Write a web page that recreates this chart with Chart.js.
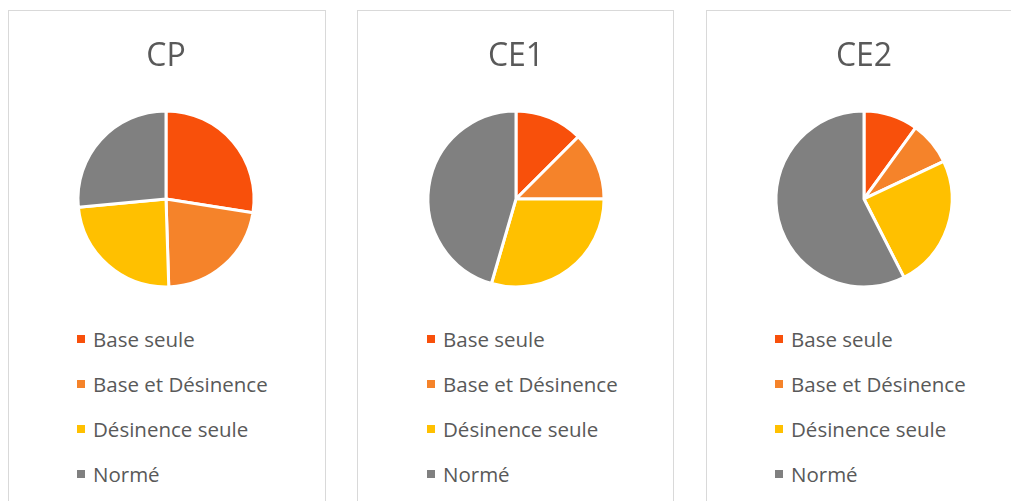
<!DOCTYPE html>
<html>
<head>
<meta charset="utf-8">
<script src="https://cdn.jsdelivr.net/npm/chart.js@4"></script>
<style>
  html, body { margin: 0; padding: 0; background: #fff; }
  body { width: 1011px; height: 501px; position: relative; overflow: hidden; font-family: "Open Sans", sans-serif; }
  .panel { position: absolute; top: 10px; height: 520px; border: 1px solid #d9d9d9; box-sizing: border-box; background: #fff; }
  .chart { position: absolute; top: 10px; width: 316px; height: 290px; }
  .legend { position: absolute; top: 0; margin: 0; padding: 0; list-style: none; }
  .legend li { position: absolute; left: 0; white-space: nowrap; font-size: 20.5px; color: #595959; line-height: 24px; height: 24px; }
  .legend .sw { position: absolute; left: 0; top: 8px; width: 8px; height: 8px; }
  .legend .tx { position: absolute; left: 16px; top: 0; }
</style>
</head>
<body>
<div class="panel" style="left:8px;width:318px"></div>
<div class="panel" style="left:357px;width:317px"></div>
<div class="panel" style="left:706px;width:320px"></div>

<canvas id="c0" class="chart" width="316" height="290" style="left:8px"></canvas>
<canvas id="c1" class="chart" width="316" height="290" style="left:358px"></canvas>
<canvas id="c2" class="chart" width="316" height="290" style="left:706px"></canvas>

<ul id="l0" class="legend"></ul>
<ul id="l1" class="legend"></ul>
<ul id="l2" class="legend"></ul>

<script>
// Categories of answers
const categories = ['Base seule', 'Base et Désinence', 'Désinence seule', 'Normé'];
// Share (%) of each category per school level
const cpValues  = [27.5, 22, 24, 26.5];
const ce1Values = [12.5, 12.5, 29.5, 45.5];
const ce2Values = [10, 8, 24.5, 57.5];
const levels = ['CP', 'CE1', 'CE2'];
const sliceColors = ['#F8500B', '#F5832A', '#FFC000', '#808080'];

const seriesByLevel = [cpValues, ce1Values, ce2Values];
const legendLeft = [77, 427, 775];
const legendRowY = [339, 384, 429, 474];

seriesByLevel.forEach((values, i) => {
  const chart = new Chart(document.getElementById('c' + i), {
    type: 'pie',
    data: {
      labels: categories,
      datasets: [{
        data: values,
        backgroundColor: sliceColors,
        borderColor: '#ffffff',
        borderWidth: 3
      }]
    },
    options: {
      responsive: false,
      maintainAspectRatio: false,
      animation: false,
      layout: { padding: { top: 0, bottom: 11.5, left: 0, right: 0 } },
      plugins: {
        legend: { display: false },
        tooltip: { enabled: false },
        title: {
          display: true,
          text: levels[i],
          color: '#595959',
          font: { family: 'Open Sans', size: 32, weight: 'normal', lineHeight: 1.2 },
          padding: { top: 28, bottom: 33 }
        }
      }
    }
  });

  // Vertical legend built from the chart's own legend items
  const items = Chart.overrides.pie.plugins.legend.labels.generateLabels(chart);
  const ul = document.getElementById('l' + i);
  ul.style.left = legendLeft[i] + 'px';
  items.forEach((it, k) => {
    const li = document.createElement('li');
    li.style.top = (legendRowY[k] - 12) + 'px';
    const sw = document.createElement('span');
    sw.className = 'sw';
    sw.style.background = it.fillStyle;
    const tx = document.createElement('span');
    tx.className = 'tx';
    tx.textContent = it.text;
    li.appendChild(sw);
    li.appendChild(tx);
    ul.appendChild(li);
  });
});
</script>
</body>
</html>
